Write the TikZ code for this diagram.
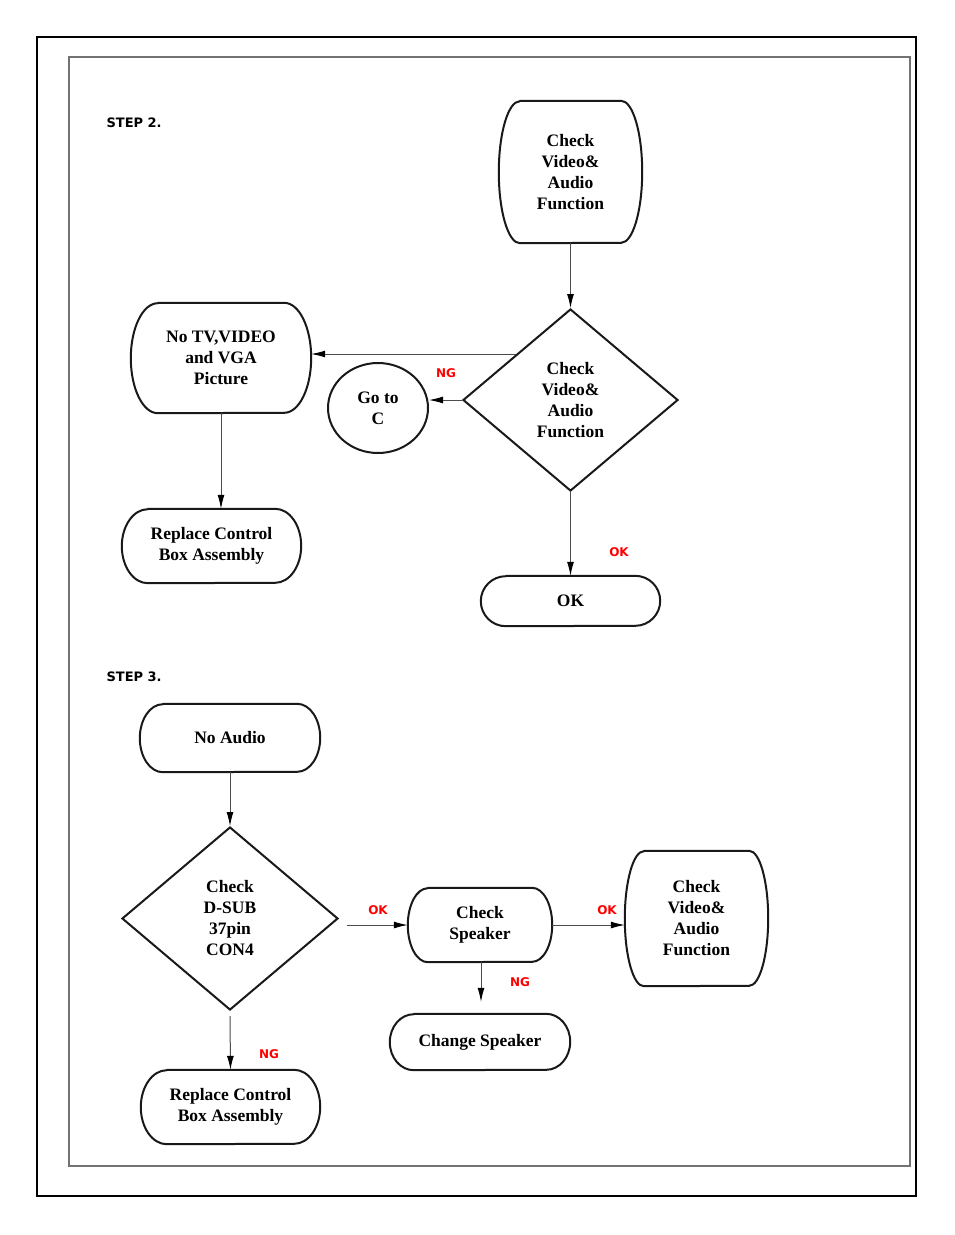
\documentclass[tikz,border=0pt]{standalone}
\usepackage{fontspec}
\setmainfont{Liberation Serif}
\newfontfamily\labelfont{DejaVu Sans}
\usetikzlibrary{shapes.geometric,arrows.meta}

% box with curved ends: name, centre, width, height, end radius, text
\newcommand\flowbox[6]{%
  \node[boxtext, minimum width=#3, minimum height=#4] (#1) at (#2) {#6};
  \draw[outline] ([xshift=#5]#1.north west) -- ([xshift=-#5]#1.north east)
    arc[start angle=90, end angle=-90, x radius=#5, y radius=#4/2]
    -- ([xshift=#5]#1.south west)
    arc[start angle=270, end angle=90, x radius=#5, y radius=#4/2] -- cycle;
}

\begin{document}
\begin{tikzpicture}[x=1pt,y=-1pt,
  boxtext/.style={inner sep=0pt, align=center, font=\bfseries\fontsize{17.5}{21}\selectfont},
  outline/.style={line width=2pt, black!90, line join=round},
  decision/.style={diamond, draw=black!90, line width=2pt, inner sep=0pt, align=center,
    font=\bfseries\fontsize{17.5}{21}\selectfont},
  arr/.style={-{Latex[length=14pt,width=7pt,black]}, line width=1pt, black!70},
  answer/.style={text=red, font=\labelfont\bfseries\fontsize{12}{14}\selectfont},
  steplabel/.style={anchor=west, font=\labelfont\bfseries\fontsize{13}{15}\selectfont}]
\useasboundingbox (0,0) rectangle (954,1235);
\fill[white] (0,0) rectangle (954,1235);

% page frames
\draw[line width=1.3pt] (37,37) rectangle (916,1196);
\draw[line width=1.2pt, black!55] (69,57) rectangle (910,1166);

% step 2
\node[steplabel] (step2) at (103,123) {STEP 2.};
\flowbox{check1}{570.5,172}{143pt}{142pt}{21pt}{Check\\Video\&\\Audio\\Function}
\node[decision, minimum width=215pt, minimum height=182pt] (test1) at (570.5,400)
  {Check\\Video\&\\Audio\\Function};
\flowbox{notv}{221,358}{180pt}{110pt}{27pt}{No TV,VIDEO\\and VGA\\Picture}
\node[ellipse, draw=black!90, line width=2pt, inner sep=0pt, minimum width=100pt,
  minimum height=90pt, align=center, font=\bfseries\fontsize{17.5}{21}\selectfont]
  (goto) at (378,408) {Go to\\C};
\flowbox{replace1}{211.5,546}{179pt}{74pt}{26pt}{Replace Control\\Box Assembly}
\flowbox{ok}{570.5,601}{179pt}{50pt}{25pt}{OK}

\draw[arr] (check1.south) -- (test1.north);
\draw[arr] (test1.north west) -- (test1.north west -| notv.east);
\draw[arr] (test1.west) -- (test1.west -| goto.east);
\draw[arr] (test1.south) -- (ok.north);
\draw[arr] (notv.south) -- (notv.south |- replace1.north);
\node[answer] (ng1) at (446,373) {NG};
\node[answer] (ok1) at (619,552) {OK};

% step 3
\node[steplabel] (step3) at (103,677) {STEP 3.};
\flowbox{noaudio}{230,738}{180pt}{68pt}{23pt}{No Audio}
\node[decision, minimum width=216pt, minimum height=183pt] (test2) at (230,918.5)
  {Check\\D-SUB\\37pin\\CON4};
\flowbox{speaker}{480,925}{144pt}{74pt}{20pt}{Check\\Speaker}
\flowbox{check2}{696.5,918.5}{143pt}{135pt}{19pt}{Check\\Video\&\\Audio\\Function}
\flowbox{change}{480,1042}{180pt}{56pt}{24pt}{Change Speaker}
\flowbox{replace2}{230.5,1107}{179pt}{74pt}{26pt}{Replace Control\\Box Assembly}

\draw[arr] (noaudio.south) -- (test2.north);
\draw[arr] ([xshift=8pt]speaker.west -| test2.east) -- (speaker.west);
\draw[arr] (speaker.east) -- (speaker.east -| check2.west);
\draw[arr] ([xshift=1pt]speaker.south) -- ([shift={(1pt,12pt)}]change.north);
\draw[arr] ([yshift=-5pt]test2.south) -- (replace2.north);
\node[answer] (ok2) at (378,910) {OK};
\node[answer] (ok3) at (607,910) {OK};
\node[answer] (ng2) at (520,982) {NG};
\node[answer] (ng3) at (269,1054) {NG};

\end{tikzpicture}
\end{document}
